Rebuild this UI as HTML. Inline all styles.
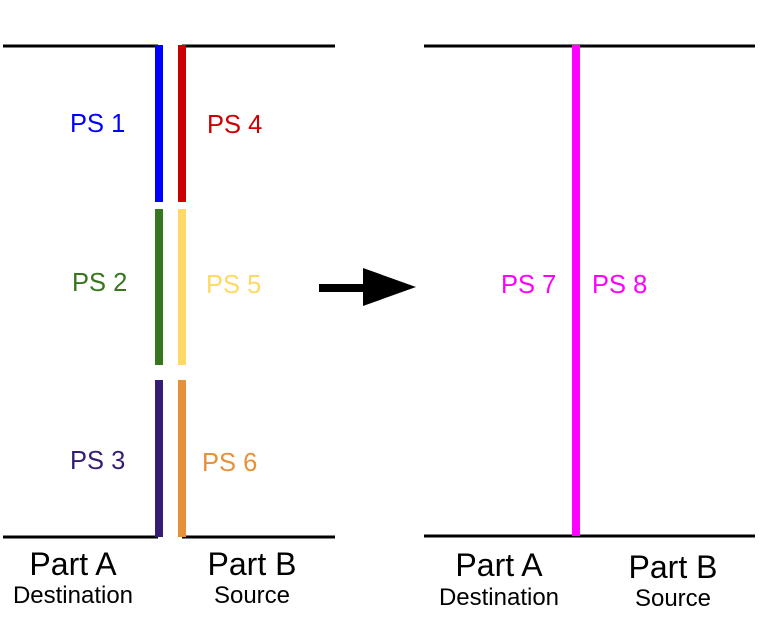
<!DOCTYPE html>
<html><head><style>body{margin:0;background:#fff}</style></head><body>
<svg width="767" height="631" xmlns="http://www.w3.org/2000/svg" font-family="Liberation Sans, sans-serif">
<rect width="767" height="631" fill="#fff"/>
<g stroke="#000" stroke-width="3">
<line x1="3" y1="46" x2="158" y2="46"/><line x1="182" y1="46" x2="335" y2="46"/>
<line x1="3" y1="537" x2="158" y2="537"/><line x1="182" y1="537" x2="335" y2="537"/>
<line x1="424" y1="46" x2="755" y2="46"/><line x1="424" y1="536" x2="755" y2="536"/>
</g>
<rect x="155" y="45" width="8" height="157" fill="#0000ff"/>
<rect x="178" y="45" width="8" height="157" fill="#cc0000"/>
<rect x="155" y="209" width="8" height="156" fill="#38761d"/>
<rect x="178" y="209" width="8" height="156" fill="#ffd966"/>
<rect x="155" y="380" width="8" height="157" fill="#351c75"/>
<rect x="178" y="380" width="8" height="157" fill="#e69138"/>
<rect x="572" y="45" width="8" height="491" fill="#ff00ff"/>
<rect x="319" y="284" width="46" height="8" fill="#000"/>
<polygon points="363,268 416,287 363,306" fill="#000"/>
<g font-size="25.5">
<text x="70" y="132" fill="#0000ff">PS 1</text>
<text x="207" y="133" fill="#cc0000">PS 4</text>
<text x="72" y="291" fill="#38761d">PS 2</text>
<text x="206" y="293" fill="#ffd966">PS 5</text>
<text x="70" y="469" fill="#351c75">PS 3</text>
<text x="202" y="471" fill="#e69138">PS 6</text>
<text x="501" y="293" fill="#ff00ff">PS 7</text>
<text x="592" y="293" fill="#ff00ff">PS 8</text>
</g>
<g text-anchor="middle" fill="#000">
<text x="73" y="575" font-size="32">Part A</text>
<text x="73" y="603" font-size="24">Destination</text>
<text x="252" y="575" font-size="32">Part B</text>
<text x="252" y="603" font-size="24">Source</text>
<text x="499" y="576" font-size="32">Part A</text>
<text x="499" y="605" font-size="24">Destination</text>
<text x="673" y="578" font-size="32">Part B</text>
<text x="673" y="606" font-size="24">Source</text>
</g>
</svg>
</body></html>
